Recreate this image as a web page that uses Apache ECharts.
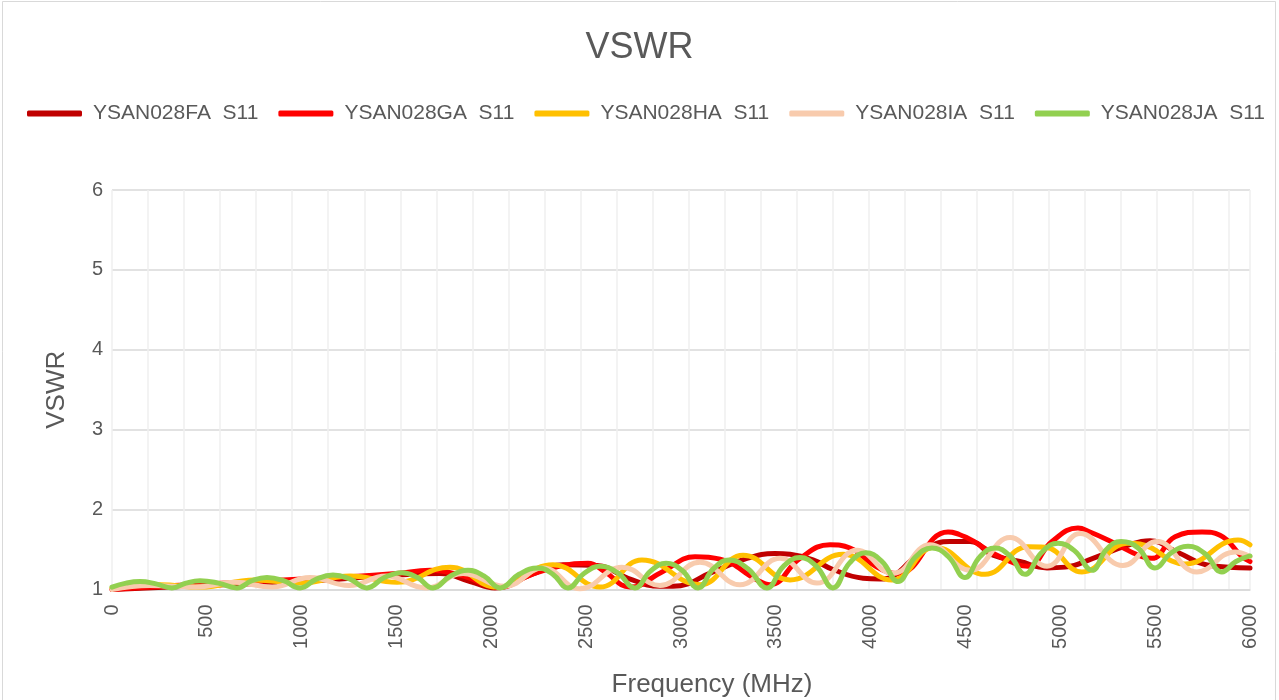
<!DOCTYPE html>
<html>
<head>
<meta charset="utf-8">
<script src="https://cdn.jsdelivr.net/npm/echarts@6/dist/echarts.min.js"></script>
<style>
html,body{margin:0;padding:0;background:#fff;}
#chart{width:1279px;height:700px;}
</style>
</head>
<body>
<div id="chart"></div>
<script>
// ---- data (frequency in MHz, VSWR) ----
const seriesNames = ['YSAN028FA  S11','YSAN028GA  S11','YSAN028HA  S11','YSAN028IA  S11','YSAN028JA  S11'];
const seriesColors = ['#C00000','#FF0000','#FFC000','#F8CBAD','#92D050'];

const faFreq = [0,501,1002,1497,1729,1888,2019,2204,2378,2557,2721,2889,2958,3169,3348,3496,3575,3696,3801,3960,4049,4297,4418,4524,4645,4787,4930,5025,5172,5351,5473,5615,5789,6000];
const faVswr = [1.0,1.05,1.10,1.18,1.20,1.10,1.02,1.18,1.31,1.30,1.14,1.04,1.04,1.22,1.39,1.45,1.44,1.37,1.25,1.14,1.13,1.52,1.60,1.60,1.43,1.35,1.27,1.28,1.39,1.55,1.61,1.47,1.30,1.27];

const gaFreq = [0,253,501,754,1002,1255,1497,1677,1835,2046,2204,2373,2510,2599,2731,2900,3074,3206,3401,3469,3627,3786,3891,4033,4144,4408,4513,4640,4777,4830,4956,5093,5156,5251,5431,5483,5605,5747,5842,5958,6000];
const gaVswr = [1.0,1.04,1.07,1.10,1.13,1.16,1.20,1.24,1.18,1.03,1.18,1.30,1.33,1.22,1.03,1.22,1.41,1.38,1.12,1.06,1.39,1.56,1.52,1.28,1.20,1.72,1.64,1.46,1.31,1.29,1.60,1.77,1.72,1.62,1.41,1.39,1.66,1.72,1.68,1.41,1.35];

const haFreq = [0,253,464,754,991,1255,1503,1782,2030,2325,2573,2794,3100,3327,3575,3854,4112,4339,4603,4830,4919,5114,5357,5420,5657,5937,6000];
const haVswr = [1.02,1.06,1.03,1.12,1.08,1.17,1.09,1.28,1.03,1.31,1.03,1.37,1.06,1.43,1.12,1.44,1.12,1.53,1.19,1.535,1.53,1.22,1.58,1.57,1.32,1.62,1.56];

const iaFreq = [0,200,438,648,844,1044,1250,1445,1656,1851,2072,2272,2467,2689,2889,3100,3311,3522,3717,3928,4118,4313,4524,4735,4930,5104,5330,5510,5720,5921,6000];
const iaVswr = [1.0,1.05,1.03,1.09,1.03,1.15,1.05,1.17,1.02,1.20,1.04,1.27,1.01,1.28,1.05,1.34,1.06,1.39,1.08,1.49,1.20,1.56,1.24,1.65,1.29,1.70,1.30,1.60,1.22,1.47,1.41];

const jaFreq = [0,74,148,232,316,390,464,561,659,738,817,904,991,1078,1165,1255,1344,1436,1529,1610,1692,1785,1877,1961,2046,2146,2246,2325,2404,2488,2573,2665,2757,2839,2921,3005,3090,3171,3253,3353,3453,3540,3627,3714,3801,3888,3975,4060,4144,4233,4323,4410,4497,4576,4656,4735,4814,4900,4988,5077,5167,5243,5320,5410,5499,5586,5673,5762,5852,5926,6000];
const jaVswr = [1.03,1.08,1.10,1.07,1.02,1.08,1.11,1.08,1.02,1.11,1.15,1.11,1.02,1.13,1.18,1.13,1.02,1.15,1.21,1.15,1.02,1.17,1.24,1.17,1.02,1.19,1.27,1.19,1.02,1.20,1.29,1.21,1.02,1.23,1.33,1.24,1.02,1.26,1.37,1.26,1.02,1.29,1.40,1.29,1.02,1.33,1.46,1.35,1.10,1.40,1.52,1.41,1.15,1.41,1.52,1.42,1.19,1.46,1.58,1.48,1.24,1.50,1.60,1.52,1.27,1.46,1.54,1.45,1.22,1.35,1.42];

const xTickValues = [0,500,1000,1500,2000,2500,3000,3500,4000,4500,5000,5500,6000];
const yTickValues = [1,2,3,4,5,6];
const xMinorStep = 190;

const freqs = [faFreq, gaFreq, haFreq, iaFreq, jaFreq];
const vswrs = [faVswr, gaVswr, haVswr, iaVswr, jaVswr];

const FONT = '"Liberation Sans", Arial, sans-serif';
const TXT = '#595959';

const chart = echarts.init(document.getElementById('chart'), null, {renderer: 'canvas'});

const series = seriesNames.map((name, i) => ({
  name: name,
  type: 'line',
  xAxisIndex: 0,
  yAxisIndex: 0,
  data: freqs[i].map((f, k) => [f, vswrs[i][k]]),
  showSymbol: false,
  symbol: 'none',
  smooth: 0.45,
  lineStyle: {color: seriesColors[i], width: 5, cap: 'round', join: 'round'},
  itemStyle: {color: seriesColors[i]},
  z: 2 + i,
  animation: false
}));

chart.setOption({
  backgroundColor: '#ffffff',
  animation: false,
  title: {
    text: 'VSWR',
    left: 'center',
    top: 25,
    textStyle: {fontFamily: FONT, fontSize: 36, fontWeight: 'normal', color: TXT}
  },
  legend: {
    data: seriesNames,
    top: 98,
    left: 22,
    itemWidth: 55,
    itemHeight: 6,
    itemGap: 20,
    icon: 'roundRect',
    textStyle: {fontFamily: FONT, fontSize: 21, color: TXT, padding: [0, 0, 0, 6]}
  },
  grid: {left: 112, right: 29, top: 190, bottom: 110.5, containLabel: false, outerBoundsMode: 'none'},
  xAxis: [{
    type: 'value',
    min: xTickValues[0],
    max: xTickValues[xTickValues.length - 1],
    interval: 500,
    name: 'Frequency (MHz)',
    nameLocation: 'middle',
    nameGap: 82,
    nameTextStyle: {fontFamily: FONT, fontSize: 26, color: TXT, padding: [0, 0, 0, 62]},
    axisLine: {show: true, lineStyle: {color: '#d9d9d9', width: 1.5}},
    axisTick: {show: false},
    splitLine: {show: false},
    axisLabel: {
      rotate: 90, margin: 15, fontFamily: FONT, fontSize: 20, color: TXT,
      customValues: xTickValues,
      formatter: v => String(v)
    }
  }, {
    type: 'value',
    min: xTickValues[0],
    max: xTickValues[xTickValues.length - 1],
    interval: xMinorStep,
    position: 'bottom',
    axisLine: {show: false},
    axisTick: {show: false},
    axisLabel: {show: false},
    splitLine: {show: true, lineStyle: {color: '#efefef', width: 1.5}},
    z: 0
  }],
  yAxis: {
    type: 'value',
    min: yTickValues[0],
    max: yTickValues[yTickValues.length - 1],
    interval: 1,
    name: 'VSWR',
    nameLocation: 'middle',
    nameGap: 42,
    nameTextStyle: {fontFamily: FONT, fontSize: 26, color: TXT},
    axisLine: {show: false},
    axisTick: {show: false},
    axisLabel: {margin: 9, fontFamily: FONT, fontSize: 20, color: TXT, formatter: v => String(v)},
    splitLine: {show: true, lineStyle: {color: '#d9d9d9', width: 1.5}}
  },
  graphic: [{
    type: 'rect',
    shape: {x: 2.5, y: 1.5, width: 1273, height: 710},
    style: {fill: 'none', stroke: '#d9d9d9', lineWidth: 1},
    silent: true
  }],
  series: series
});
</script>
</body>
</html>
